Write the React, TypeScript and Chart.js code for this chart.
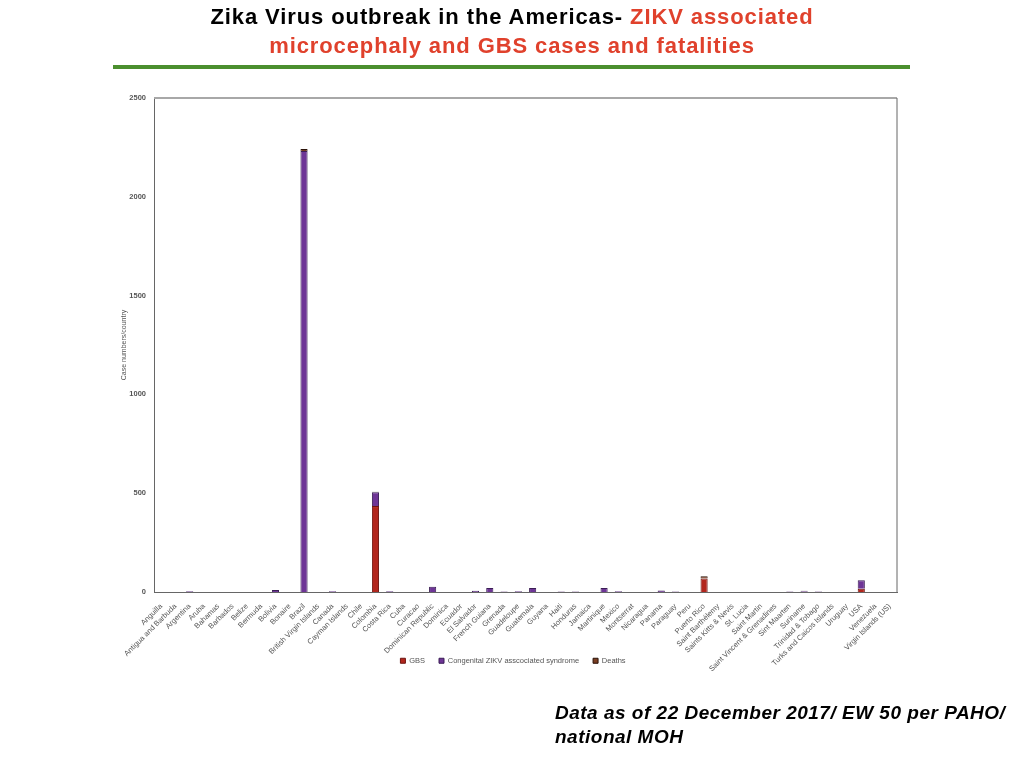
import React, { useEffect, useRef } from "react";
import { Chart, registerables } from "chart.js";

Chart.register(...registerables);

const categories: string[] = [
  "Anguilla", "Antigua and Barbuda", "Argentina", "Aruba", "Bahamas", "Barbados",
  "Belize", "Bermuda", "Bolivia", "Bonaire", "Brazil", "British Virgin Islands",
  "Canada", "Cayman Islands", "Chile", "Colombia", "Costa Rica", "Cuba", "Curacao",
  "Dominican Republic", "Dominica", "Ecuador", "El Salvador", "French Guiana",
  "Grenada", "Guadeloupe", "Guatemala", "Guyana", "Haiti", "Honduras", "Jamaica",
  "Martinique", "Mexico", "Montserrat", "Nicaragua", "Panama", "Paraguay", "Peru",
  "Puerto Rico", "Saint Barthélemy", "Saints Kitts & Nevis", "St. Lucia",
  "Saint Martin", "Saint Vincent & Grenadines", "Sint Maarten", "Suriname",
  "Trinidad & Tobago", "Turks and Caicos Islands", "Uruguay", "USA", "Venezuela",
  "Virgin Islands (US)",
];

const gbs: number[] = [
  0, 0, 0, 0, 0, 0, 0, 0, 0, 0, 0, 0,
  0, 0, 0, 435, 0, 0, 0, 0, 0, 0, 0, 0,
  0, 0, 0, 0, 0, 0, 0, 0, 0, 0, 0, 0, 0, 0,
  68, 0, 0, 0, 0, 0, 0, 0, 0, 0, 0, 17, 0, 0,
];

const congenital: number[] = [
  0, 0, 4, 0, 0, 0, 0, 0, 10, 0, 2232, 0,
  4, 0, 0, 70, 4, 0, 0, 26, 0, 0, 6, 20,
  3, 4, 20, 0, 3, 3, 0, 20, 4, 0, 0, 7, 3, 0,
  0, 0, 0, 0, 0, 0, 2, 4, 3, 0, 0, 42, 0, 0,
];

const deaths: number[] = [
  0, 0, 0, 0, 0, 0, 0, 0, 0, 0, 10, 0,
  0, 0, 0, 2, 0, 0, 0, 0, 0, 0, 0, 0,
  0, 0, 0, 0, 0, 0, 0, 0, 0, 0, 0, 0, 0, 0,
  12, 0, 0, 0, 0, 0, 0, 2, 0, 0, 0, 0, 0, 0,
];

const yTicks: number[] = [0, 500, 1000, 1500, 2000, 2500];

const PLOT_BOTTOM = 592;
const LEGEND_TOP = 643;
const LEGEND_CENTER_X = 513;

const framePlugin = {
  id: "frame",
  afterLayout(chart: any) {
    const lg = chart.legend;
    if (lg) {
      const h = lg.bottom - lg.top;
      lg.top = LEGEND_TOP;
      lg.bottom = LEGEND_TOP + h;
      const shift = LEGEND_CENTER_X - (lg.left + lg.right) / 2;
      lg.left += shift;
      lg.right += shift;
    }
  },
  afterDraw(chart: any) {
    const { ctx, chartArea } = chart;
    ctx.save();
    ctx.strokeStyle = "#a8a8a8";
    ctx.lineWidth = 2;
    ctx.beginPath();
    ctx.moveTo(chartArea.left, chartArea.top);
    ctx.lineTo(chartArea.right, chartArea.top);
    ctx.stroke();
    ctx.strokeStyle = "#666666";
    ctx.lineWidth = 1;
    ctx.beginPath();
    ctx.moveTo(chartArea.right, chartArea.top);
    ctx.lineTo(chartArea.right, chartArea.bottom);
    ctx.stroke();
    ctx.restore();
  },
};

export default function App() {
  const ref = useRef<HTMLCanvasElement | null>(null);

  useEffect(() => {
    if (!ref.current) return;
    const chart = new Chart(ref.current, {
      type: "bar",
      data: {
        labels: categories,
        datasets: [
          {
            label: "GBS",
            data: gbs,
            backgroundColor: "#b2261d",
            borderColor: "#6e1410",
            borderWidth: 1,
            barPercentage: 0.5,
            categoryPercentage: 1,
          },
          {
            label: "Congenital ZIKV asscociated syndrome",
            data: congenital,
            backgroundColor: "#6e3596",
            borderColor: "#3a1d55",
            borderWidth: 1,
            barPercentage: 0.5,
            categoryPercentage: 1,
          },
          {
            label: "Deaths",
            data: deaths,
            backgroundColor: "#7a3e22",
            borderColor: "#2a1208",
            borderWidth: 1,
            barPercentage: 0.5,
            categoryPercentage: 1,
          },
        ],
      },
      options: {
        responsive: false,
        animation: false,
        layout: { padding: { left: 116, right: 127, top: 98, bottom: 0 } },
        plugins: {
          legend: {
            position: "bottom",
            labels: {
              boxWidth: 5,
              boxHeight: 5,
              padding: 14,
              color: "#555555",
              font: { family: "Liberation Sans", size: 7.5 },
            },
          },
          tooltip: { enabled: false },
        },
        scales: {
          x: {
            stacked: true,
            grid: { display: false },
            border: { color: "#666666" },
            ticks: {
              autoSkip: false,
              maxRotation: 45,
              minRotation: 45,
              color: "#555555",
              padding: 2,
              font: { family: "Liberation Sans", size: 7.5 },
            },
            afterFit(scale: any) {
              const lg = scale.chart.legend;
              const lh = lg ? lg.height : 0;
              scale.height = 768 - PLOT_BOTTOM - lh;
            },
          },
          y: {
            stacked: true,
            min: 0,
            max: 2500,
            afterBuildTicks(scale: any) {
              scale.ticks = yTicks.map((v) => ({ value: v }));
            },
            grid: { display: false, drawTicks: false },
            border: { color: "#666666" },
            ticks: {
              padding: 8,
              color: "#555555",
              font: { family: "Liberation Sans", size: 7.5, weight: "bold" },
              callback: (v: any) => String(v),
            },
            title: {
              display: true,
              text: "Case numbers/country",
              color: "#555555",
              font: { family: "Liberation Sans", size: 7 },
            },
            afterFit(scale: any) {
              scale.width = 38;
            },
          },
        },
      },
      plugins: [framePlugin],
    });
    return () => chart.destroy();
  }, []);

  return (
    <div style={{ position: "absolute", left: 0, top: 0, width: 1024, height: 768, background: "#fff" }}>
      <canvas ref={ref} width={1024} height={768} style={{ position: "absolute", left: 0, top: 0, width: 1024, height: 768 }} />
      <div
        style={{
          position: "absolute",
          left: 0,
          top: 2,
          width: 1024,
          textAlign: "center",
          fontFamily: "Liberation Sans, Arial, sans-serif",
          fontWeight: "bold",
          fontSize: 22,
          lineHeight: "29px",
          letterSpacing: "0.9px",
          color: "#000",
        }}
      >
        <div>
          Zika Virus outbreak in the Americas- <span style={{ color: "#e0412c" }}>ZIKV associated</span>
        </div>
        <div style={{ color: "#e0412c" }}>microcephaly and GBS cases and fatalities</div>
      </div>
      <div style={{ position: "absolute", left: 113, top: 65, width: 797, height: 4, background: "#4b8f2e" }} />
      <div
        style={{
          position: "absolute",
          left: 555,
          top: 701,
          fontFamily: "Liberation Sans, Arial, sans-serif",
          fontWeight: "bold",
          fontStyle: "italic",
          fontSize: 19,
          lineHeight: "24px",
          letterSpacing: "0.5px",
          color: "#000",
          whiteSpace: "nowrap",
        }}
      >
        <div>Data as of 22 December 2017/ EW 50 per PAHO/</div>
        <div>national MOH</div>
      </div>
    </div>
  );
}
